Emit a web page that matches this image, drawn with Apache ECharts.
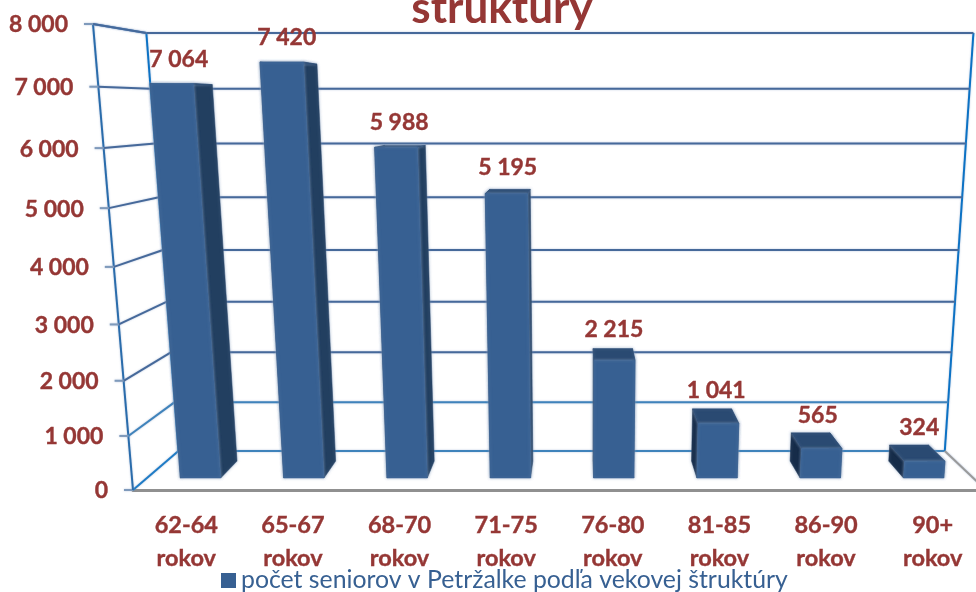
<!DOCTYPE html>
<html style="height: 100%">
<head>
    <meta charset="utf-8">
</head>
<body style="height: 100%; margin: 0">
<div id="container" style="height: 592px;width: 976px"></div>
<script src="https://cdn.jsdelivr.net/npm/echarts@6/dist/echarts.min.js"></script>
<script type="text/javascript">
    var titleText = 'štruktúry';
    var seriesName = 'počet seniorov v Petržalke podľa vekovej štruktúry';
    var categories = ['62-64\nrokov', '65-67\nrokov', '68-70\nrokov', '71-75\nrokov', '76-80\nrokov', '81-85\nrokov', '86-90\nrokov', '90+\nrokov'];
    var seniorCounts = [7064, 7420, 5988, 5195, 2215, 1041, 565, 324];
    var valueTicks = [0, 1000, 2000, 3000, 4000, 5000, 6000, 7000, 8000];

    var fontName = 'Lato, Carlito, sans-serif';
    var textRed = '#953735';

    // perspective of the old 3D chart: the grid is the front plane, depth goes to the back wall
    var upPull = -0.08167, upVanish = [583, 5730];
    var depthPull = 0.113, depthVanish = [580, 106];
    var barFront = 0.285, barBack = 0.72;

    function thousands(v) {
        return String(v).replace(/\B(?=(\d{3})+$)/g, ' ');
    }

    // grid pixel + depth -> picture pixel
    function project(px, py, depth, cs) {
        var bottom = cs.y + cs.height;
        var ky = (bottom - py) / cs.height * upPull;
        var kz = depth * depthPull;
        var w = 1 + ky + kz;
        return [
            (px + ky * upVanish[0] + kz * depthVanish[0]) / w,
            (bottom + ky * upVanish[1] + kz * depthVanish[1]) / w
        ];
    }

    function line(points, color, width) {
        return {
            type: 'polyline',
            shape: { points: points },
            style: { stroke: color, fill: null, lineWidth: width, shadowBlur: 2, shadowColor: 'rgba(130,155,195,0.6)' }
        };
    }

    function face(points, color) {
        return {
            type: 'polygon',
            shape: { points: points },
            style: { fill: color, stroke: color, lineWidth: 0.5, shadowBlur: 3, shadowColor: 'rgba(130,155,190,0.7)' }
        };
    }

    function boldText(x, y, text, align) {
        return {
            type: 'text',
            style: {
                x: x,
                y: y,
                text: text,
                fill: textRed,
                fontFamily: fontName,
                fontWeight: 'bold',
                fontSize: 23,
                stroke: textRed,
                lineWidth: 0.4,
                align: align,
                verticalAlign: 'middle'
            }
        };
    }

    function renderWall(params, api) {
        var cs = params.coordSys;
        var value = api.value(0);
        var py = api.coord([0, value])[1];
        var left = cs.x, right = cs.x + cs.width;
        var front = project(left, py, 0, cs);
        var corner = project(left, py, 1, cs);
        var end = project(right, py, 1, cs);
        var children = [];
        var gridColor = value <= 1000 ? '#3f83bb' : '#46699a';

        children.push(line([front, corner], value === 0 ? '#1f7cc6' : gridColor, 2));
        children.push(line([corner, end], gridColor, 2));
        // tick on the front left edge
        children.push(line([[front[0] - 9, front[1]], [front[0], front[1]]], '#7f9abb', 2));
        children.push(boldText(front[0] - 25, front[1] + 1, thousands(value), 'right'));

        if (value === 0) {
            var top = api.coord([0, 8000])[1];
            var cornerTop = project(left, top, 1, cs);
            children.push(line([front, project(left, top, 0, cs)], '#2a6cab', 2));
            children.push(line([project(left, top, 0, cs), cornerTop], '#2f72b4', 2));
            children.push(line([corner, cornerTop], '#0c72c4', 2));
            children.push(line([end, project(right, top, 1, cs)], '#0c72c4', 2));
            children.push(line([end, project(right, py, 0, cs)], '#9a9a9a', 2));
        }
        return { type: 'group', children: children };
    }

    function renderBar(params, api) {
        var cs = params.coordSys;
        var i = api.value(0);
        var val = api.value(1);
        var base = api.coord([i, 0]);
        var head = api.coord([i, val]);
        var half = api.size([1, 0])[0] * 0.195;
        var xa = base[0] + 2 - half, xb = base[0] + 2 + half;

        function pt(x, py, depth) { return project(x, py, depth, cs); }

        var fBL = pt(xa, base[1], barFront), fBR = pt(xb, base[1], barFront);
        var fTL = pt(xa, head[1], barFront), fTR = pt(xb, head[1], barFront);
        var bBL = pt(xa, base[1], barBack), bBR = pt(xb, base[1], barBack);
        var bTL = pt(xa, head[1], barBack), bTR = pt(xb, head[1], barBack);

        var leftFace = face([fBL, fTL, bTL, bBL], '#162c49');
        var rightFace = face([fBR, fTR, bTR, bBR], '#223f60');
        var topFace = face([fTL, fTR, bTR, bTL], '#2a4a72');
        var frontFace = face([fBL, fBR, fTR, fTL], '#376092');
        var leftOfCentre = fBL[0] < depthVanish[0];

        var labelX = 0.325 * (fTL[0] + fTR[0]) + 0.175 * (bTL[0] + bTR[0]);
        var topY = Math.min(fTL[1], bTL[1]);

        return {
            type: 'group',
            children: [
                leftOfCentre ? leftFace : rightFace,
                leftOfCentre ? rightFace : leftFace,
                topFace,
                frontFace,
                boldText(labelX, topY - (26 - 0.02 * topY), thousands(val), 'center')
            ]
        };
    }

    var myChart = echarts.init(document.getElementById('container'));
    var option = {
        backgroundColor: '#fff',
        animation: false,
        title: {
            text: titleText,
            left: 497,
            top: -18,
            textAlign: 'center',
            textStyle: { color: textRed, fontFamily: fontName, fontWeight: 'bold', fontSize: 44 }
        },
        legend: {
            data: [seriesName],
            left: 216,
            top: 563,
            icon: 'rect',
            itemWidth: 15,
            itemHeight: 15,
            textStyle: { color: '#376092', fontFamily: fontName, fontSize: 24.8 }
        },
        grid: { left: 133, top: 24, width: 853, height: 466, outerBoundsMode: 'none' },
        xAxis: {
            type: 'category',
            data: categories,
            axisLine: { lineStyle: { color: '#909090', width: 3 } },
            axisTick: { length: 8, lineStyle: { color: '#909090', width: 2 } },
            axisLabel: {
                interval: 0,
                color: textRed,
                fontFamily: fontName,
                fontWeight: 'bold',
                fontSize: 23.5,
                lineHeight: 33,
                margin: 19,
                textBorderColor: textRed,
                textBorderWidth: 0.4
            }
        },
        yAxis: {
            type: 'value',
            min: 0,
            max: 8000,
            interval: 1000,
            axisLine: { show: false },
            axisTick: { show: false },
            axisLabel: { show: false },
            splitLine: { show: false }
        },
        series: [
            {
                type: 'custom',
                name: 'wall',
                clip: false,
                z: 1,
                renderItem: renderWall,
                encode: { y: 0 },
                data: valueTicks.map(function (v) { return [v]; })
            },
            {
                type: 'custom',
                name: seriesName,
                clip: false,
                z: 2,
                itemStyle: { color: '#376092' },
                renderItem: renderBar,
                encode: { x: 0, y: 1 },
                data: seniorCounts.map(function (v, i) { return [i, v]; })
            }
        ]
    };
    myChart.setOption(option);
</script>
</body>
</html>
